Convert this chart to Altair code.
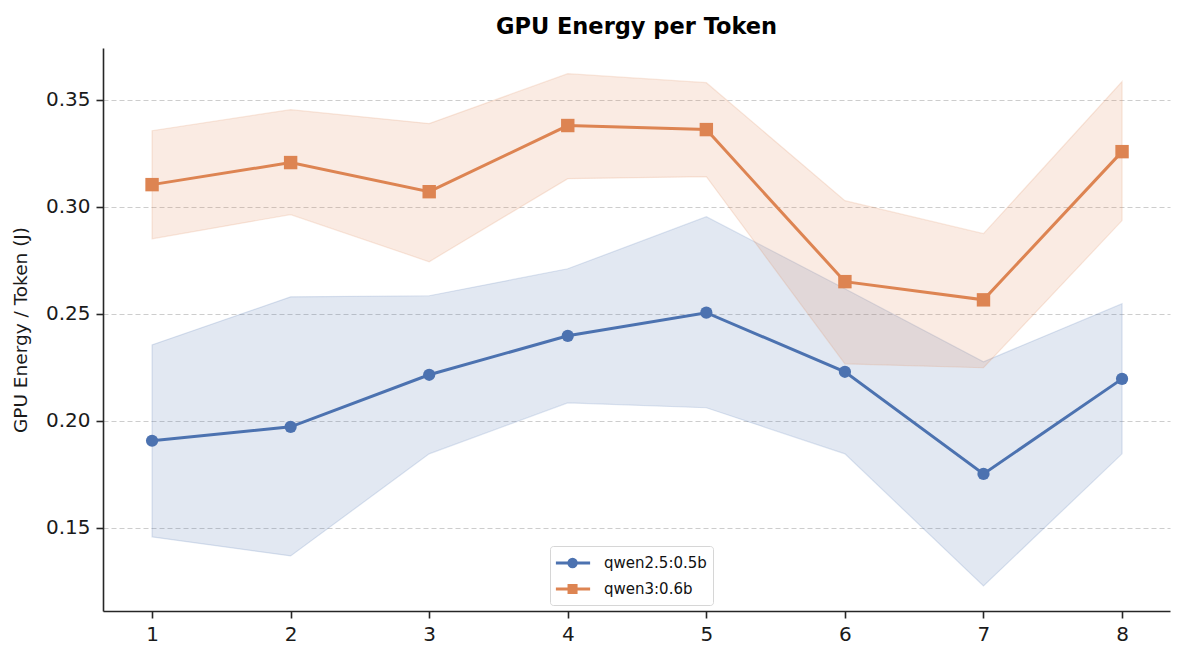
import altair as alt
import pandas as pd

steps = [1, 2, 3, 4, 5, 6, 7, 8]
models = ["qwen2.5:0.5b", "qwen3:0.6b"]
colors = ["#4c72b0", "#dd8452"]

q25_mean = [0.1907, 0.1972, 0.2215, 0.2397, 0.2505, 0.2229, 0.1752, 0.2196]
q25_hi = [0.2355, 0.2579, 0.2584, 0.2710, 0.2953, 0.2617, 0.2276, 0.2547]
q25_lo = [0.1458, 0.1369, 0.1846, 0.2084, 0.2061, 0.1846, 0.1229, 0.1846]

q3_mean = [0.3103, 0.3206, 0.3070, 0.3379, 0.3360, 0.2650, 0.2565, 0.3257]
q3_hi = [0.3355, 0.3453, 0.3388, 0.3621, 0.3579, 0.3028, 0.2874, 0.3584]
q3_lo = [0.2850, 0.2963, 0.2743, 0.3131, 0.3140, 0.2266, 0.2248, 0.2935]

y_ticks = [0.15, 0.20, 0.25, 0.30, 0.35]

series = {
    models[0]: (q25_mean, q25_lo, q25_hi),
    models[1]: (q3_mean, q3_lo, q3_hi),
}
rows = []
for m in models:
    mean, lo, hi = series[m]
    for s, a, b, c in zip(steps, mean, lo, hi):
        rows.append({"step": s, "model": m, "mean": a, "lo": b, "hi": c})
df = pd.DataFrame(rows)

FONT = "DejaVu Sans"
xscale = alt.Scale(domain=[0.646, 8.346], nice=False, zero=False)
yscale = alt.Scale(domain=[0.1112, 0.3741], nice=False, zero=False)
xaxis = alt.Axis(values=steps, format="d", title=None, grid=False)
yaxis = alt.Axis(values=y_ticks, format=".2f", title="GPU Energy / Token (J)", grid=True,
                 gridDash=[5, 3], gridColor="#c8c8c8", gridWidth=1.1, gridOpacity=0.9)

def X():
    return alt.X("step:Q", scale=xscale, axis=xaxis)

def Y(field):
    return alt.Y(f"{field}:Q", scale=yscale, axis=yaxis)

base = alt.Chart(df)
layers = []
shapes = ["circle", "square"]
sizes = [150, 180]
for m, c in zip(models, colors):
    sub = base.transform_filter(alt.datum.model == m)
    layers.append(sub.mark_area(color=c, fillOpacity=0.16, stroke=c, strokeOpacity=0.18,
                                strokeWidth=1.2).encode(x=X(), y=Y("lo"), y2="hi:Q"))
for m, c, sh, sz in zip(models, colors, shapes, sizes):
    sub = base.transform_filter(alt.datum.model == m)
    layers.append(sub.mark_line(color=c, strokeWidth=3).encode(x=X(), y=Y("mean")))
    layers.append(sub.mark_point(shape=sh, filled=True, color=c, size=sz, opacity=1)
                  .encode(x=X(), y=Y("mean")))

legend_paths = [
    "M-1.2,0H2.5M1.0,0A0.4,0.4,0,1,1,0.2,0A0.4,0.4,0,1,1,1.0,0Z",
    "M-1.2,0H2.5M0.22,-0.38H0.98V0.38H0.22Z",
]

legend_common = dict(
    title=None, orient="none", legendX=447, legendY=498,
    padding=6, rowPadding=5, symbolSize=342, labelOffset=26,
    labelFont=FONT, labelFontSize=15, labelColor="#111111",
    strokeColor="#d6d6d6", fillColor="white", cornerRadius=3,
    symbolStrokeWidth=3, symbolOpacity=1,
)

legend_layer = base.transform_filter(alt.datum.step == 1).mark_point(
    filled=True, opacity=0, strokeWidth=3).encode(
    x=X(), y=Y("mean"),
    color=alt.Color("model:N", scale=alt.Scale(domain=models, range=colors),
                    legend=alt.Legend(**legend_common)),
    stroke=alt.Stroke("model:N", scale=alt.Scale(domain=models, range=colors),
                      legend=alt.Legend(**legend_common)),
    shape=alt.Shape("model:N", scale=alt.Scale(domain=models, range=legend_paths),
                    legend=alt.Legend(**legend_common)),
)
layers.append(legend_layer)

chart = alt.layer(*layers).properties(
    width=1067, height=563,
    title=alt.TitleParams("GPU Energy per Token", font=FONT, fontSize=22.5, fontWeight="bold",
                          anchor="middle", baseline="alphabetic", offset=15, dy=23, color="black"),
    autosize=alt.AutoSizeParams(type="none"),
    padding={"left": 95, "top": 40, "right": 7, "bottom": 42},
).configure_view(stroke=None).configure_axis(
    domainColor="#262626", domainWidth=1.6, tickColor="#262626", tickWidth=1.6, tickSize=7,
    labelFont=FONT, labelFontSize=20, labelColor="#1a1a1a", labelPadding=6,
    titleFont=FONT, titleFontSize=18.5, titleFontWeight="normal", titleColor="#1a1a1a",
    titlePadding=15,
)

chart.save("out.html", embed_options={"renderer": "svg", "actions": False})
